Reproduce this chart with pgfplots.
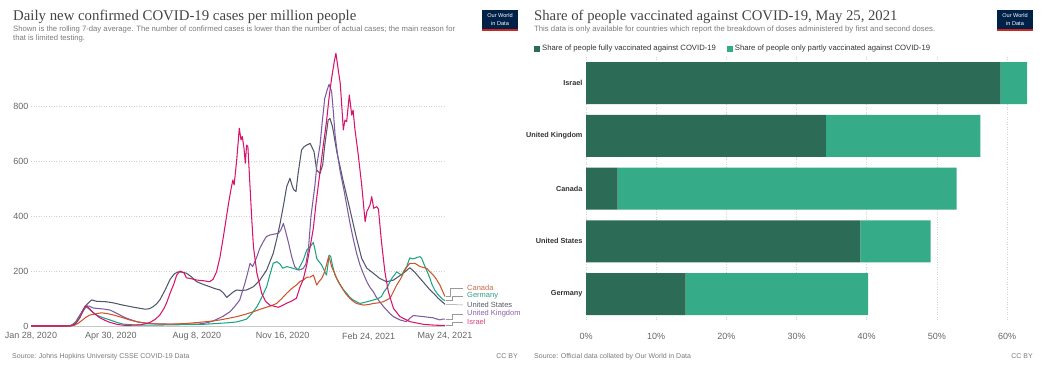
\documentclass[border=0pt]{standalone}
\usepackage{fontspec}
\setmainfont{Liberation Sans}
\newfontfamily\titlefont{Liberation Serif}
\usepackage{pgfplots}
\pgfplotsset{compat=1.18}
\definecolor{cCanada}{HTML}{CF5429}
\definecolor{cGermany}{HTML}{1BA388}
\definecolor{cUS}{HTML}{50566B}
\definecolor{cUK}{HTML}{7E5AA0}
\definecolor{cIsrael}{HTML}{D8136C}
\definecolor{lCanada}{HTML}{CC6A48}
\definecolor{lGermany}{HTML}{2F9C84}
\definecolor{lUS}{HTML}{555A66}
\definecolor{lUK}{HTML}{8A60AA}
\definecolor{lIsrael}{HTML}{D2447F}
\definecolor{fullc}{HTML}{2C6B56}
\definecolor{partc}{HTML}{35AB87}
\definecolor{navy}{HTML}{002147}
\definecolor{owidred}{HTML}{CE261E}
\definecolor{titlec}{HTML}{444444}
\definecolor{subc}{HTML}{7A7A7A}
\definecolor{tickc}{HTML}{666666}
\begin{document}
\begin{tikzpicture}[x=1pt,y=1pt]
\path[use as bounding box] (0,0) rectangle (1050,370);
% ---------- titles ----------
\node[anchor=base west, inner sep=0pt, text=titlec] at (13,349) {\titlefont\fontsize{14.8}{16}\selectfont Daily new confirmed COVID-19 cases per million people};
\node[anchor=base west, inner sep=0pt, text=subc] at (13,338) {\fontsize{7.7}{8}\selectfont Shown is the rolling 7-day average. The number of confirmed cases is lower than the number of actual cases; the main reason for};
\node[anchor=base west, inner sep=0pt, text=subc] at (13,329.3) {\fontsize{7.7}{8}\selectfont that is limited testing.};
\node[anchor=base west, inner sep=0pt, text=titlec] at (534,349) {\titlefont\fontsize{14.7}{16}\selectfont Share of people vaccinated against COVID-19, May 25, 2021};
\node[anchor=base west, inner sep=0pt, text=subc] at (534,338) {\fontsize{7.75}{8}\selectfont This data is only available for countries which report the breakdown of doses administered by first and second doses.};
% logos
\fill[navy] (482,341) rectangle (518,360);
\fill[owidred] (482,339) rectangle (518,341);
\node[text=white, inner sep=0pt] at (500,354) {\fontsize{5.6}{6}\selectfont Our World};
\node[text=white, inner sep=0pt] at (500,346.5) {\fontsize{5.6}{6}\selectfont in Data};
\fill[navy] (997,341) rectangle (1033,360);
\fill[owidred] (997,339) rectangle (1033,341);
\node[text=white, inner sep=0pt] at (1015,354) {\fontsize{5.6}{6}\selectfont Our World};
\node[text=white, inner sep=0pt] at (1015,346.5) {\fontsize{5.6}{6}\selectfont in Data};
% sources
\node[anchor=base west, inner sep=0pt, text=subc] at (12,11.5) {\fontsize{7}{7}\selectfont Source: Johns Hopkins University CSSE COVID-19 Data};
\node[anchor=base east, inner sep=0pt, text=subc] at (518,11.5) {\fontsize{7}{7}\selectfont CC BY};
\node[anchor=base west, inner sep=0pt, text=subc] at (534,11.5) {\fontsize{7}{7}\selectfont Source: Official data collated by Our World in Data};
\node[anchor=base east, inner sep=0pt, text=subc] at (1033,11.5) {\fontsize{7}{7}\selectfont CC BY};
% ---------- left line chart ----------
\begin{axis}[
  at={(31pt,44pt)}, anchor=south west, scale only axis,
  width=414pt, height=275pt,
  xmin=0, xmax=482, ymin=0, ymax=1000,
  axis line style={draw=none}, tick style={draw=none},
  xtick={0,93,193,293,393,482},
  xticklabels={{Jan 28, 2020},{Apr 30, 2020},{Aug 8, 2020},{Nov 16, 2020},{Feb 24, 2021},{May 24, 2021}},
  ytick={200,400,600,800},
  extra y ticks={0},
  extra y tick style={grid style={solid, black!22, line width=0.6pt}},
  ymajorgrids, grid style={dash pattern=on 1pt off 1.5pt, black!18, line width=0.5pt},
  ticklabel style={font=\fontsize{9}{10}\selectfont, text=tickc},
  xticklabel style={yshift=-3pt},
  yticklabel style={xshift=1pt},
  /pgf/number format/assume math mode=true,
  clip=false,
  every axis plot/.append style={line width=1.05pt, line join=round},
]
\addplot[cUS] coordinates {(0,0) (40,0) (47,2) (52,15) (58,45) (64,75) (70.6,95) (76,90) (82,89) (88,88) (96,84) (107,76) (120,68) (133,61) (138,63) (142,70) (146,80) (150,95) (156,130) (162,170) (167,190) (171.5,197) (175,196) (181,192) (187,178) (193,161) (200,152) (208,143) (214,136) (220,131) (224,120) (228,104) (232,115) (236,125) (239.5,131) (245,129) (251,131) (259,143) (266.6,167) (274.4,204) (282,264) (286,315) (290,373) (294,440) (297.7,507) (301.5,537) (304,510) (306,495) (308.5,489) (311,555) (315,640) (318,652) (321,658) (325,664) (329.5,634) (332.6,567) (336.5,555) (339.6,586) (342,658) (346,749) (348,755) (351,725) (356,634) (363.6,525) (371,428) (379,319) (385,246) (391,210) (398.5,192) (406,173) (414,161) (422,167) (428,180) (433.5,192) (441,212) (447,195) (453,173) (458,155) (464.5,131) (469,118) (474,101) (482,79)};
\addplot[cUK] coordinates {(0,0) (43,0) (48,3) (53,15) (58,40) (62,60) (65,73) (68,72) (72,66) (76.5,64) (84,62) (92,58) (100,46) (107,34) (115,24) (123,16) (132,11) (145,8) (160,7) (180,6) (195,7) (205,12) (212,18) (216,24) (224,36) (231.7,52) (237,70) (243,94.5) (246,125) (249,155) (252,190) (255,228) (258,216) (260,230) (263,252) (266,280) (270.5,307) (274,325) (278,331) (283,334) (288,337) (291,350) (293.8,373) (296,349) (300,300) (303.5,252) (307,216) (311,204) (314,205) (317,210) (320,225) (323,280) (326,400) (330.6,513) (333,590) (336.5,658) (339,740) (342,828) (345,860) (347,879) (350,852) (352,780) (354,695) (357,620) (360,561) (364,500) (367.5,440) (371,380) (375,319) (379,265) (383,222) (387,190) (391,161) (394.7,140) (398.5,125) (402,105) (406,88) (410,72) (414,58) (418,45) (422,34) (429.6,22) (437,16) (441,28) (445,38) (451,36) (457,34) (462,32) (468,30) (472,26) (476,22) (479,25) (482,25)};
\addplot[cGermany] coordinates {(0,0) (43,0) (47,2) (52,12) (56,30) (60,55) (63,68) (66,66) (70,55) (76,40) (84,30) (92,22) (100,13) (107,7) (120,4) (140,3) (160,4) (180,5) (200,6) (216,9) (230,12) (240,15) (251,25) (257,45) (263,70) (268,100) (274.4,143) (278,185) (282,228) (286,234) (290,225) (293,210) (298,216) (305,210) (311,204) (317,240) (321,276) (325,288) (328.7,304) (330.5,280) (332.6,246) (335,235) (338.4,222) (341,205) (344,185) (346,230) (347,258) (349,252) (351,220) (354,185) (357,165) (360,149) (363,135) (367.5,119) (371,105) (375,94.5) (383,82) (391,88) (398.5,94.5) (404,100) (408,107) (411,125) (414,137) (417,155) (420,173) (423,185) (425.8,197) (428,192) (431.6,185) (434,200) (437.4,216) (441,248) (444,244) (447,246) (450,250) (453,252) (455,245) (458.7,216) (461,200) (464.5,173) (467,150) (470,131) (473,118) (476,107) (479,98) (482,92)};
\addplot[cCanada] coordinates {(0,0) (45,0) (50,2) (55,10) (60,22) (64,32) (68.7,40) (75,44) (82,48) (89,45) (96,40) (105,32) (115,22) (125,14) (135,10) (150,7) (165,7) (180,9) (195,13) (208,17) (220,22) (230,28) (239.5,34) (250,43) (259,52) (266,60) (274,68) (280,74) (286,82) (292,100) (297.7,119) (303,135) (309,149) (313,162) (317,167) (321,177) (325,178) (328.7,185) (330.5,170) (332.6,149) (335,160) (338.4,173) (341,190) (344,222) (346.5,252) (348,240) (350,216) (353,195) (356,173) (360,150) (363.6,131) (367,115) (371,101) (375,90) (379,82) (387,76) (393,78) (398.5,82) (404,84) (410,88) (418,101) (422,125) (425.8,149) (430,170) (433.5,192) (437,212) (441,228) (447,228) (453,216) (460.7,210) (464,198) (468.4,185) (472,170) (476,149) (479,128) (482,107)};
\addplot[cIsrael] coordinates {(0,0) (40,0) (47,1) (52,8) (57,30) (61,60) (63,73) (66,70) (72,50) (80,30) (90,15) (100,6) (110,2) (127,4) (138,12) (145,25) (150,40) (155,65) (158,85) (162,120) (166,150) (169.6,185) (173.5,200) (178,194) (181,175) (185,173) (193,167) (200,165) (208,161) (212,170) (216,197) (220,250) (224,325) (230,446) (233,500) (235,531) (236.5,513) (239.5,604) (242.5,719) (244.5,677) (246,689) (248,646) (249.5,592) (251,658) (252.5,652) (255,507) (257,390) (259,288) (263,192) (268.6,119) (273,90) (278,76) (283,72) (288,68) (293,75) (297.7,83) (303,90) (309,101) (313,140) (317,170) (321,222) (325,288) (328.7,355) (332,450) (336.5,561) (340,650) (344,743) (347,830) (350,901) (353,960) (355,992) (358,925) (360,883) (361.5,816) (363.6,713) (365.5,749) (367.5,743) (370.6,840) (373.4,767) (375,785) (377,719) (381,622) (385,513) (389,379) (391,416) (394.7,440) (396.7,470) (399,428) (402.5,434) (404.5,425) (408,307) (412,197) (416,125) (422,64) (429.6,34) (441,16) (457,6) (470,3) (482,2)};
\end{axis}
% end labels with connectors
\begin{scope}[black!40, line width=0.5pt]
\draw (446,73.4) -- (450,73.4) -- (450,82) -- (463,82);
\draw (446,69.3) -- (452,69.3) -- (452,74) -- (463,74);
\draw (446,65.7) -- (463,65);
\draw (446,50.9) -- (452,50.9) -- (452,56) -- (463,56);
\draw (446,44.5) -- (452,44.5) -- (452,48) -- (463,48);
\end{scope}
\begin{scope}[every node/.style={anchor=west, inner sep=0pt, font=\fontsize{7.5}{8}\selectfont}]
\node[text=lCanada] at (467,82) {Canada};
\node[text=lGermany] at (467,74) {Germany};
\node[text=lUS] at (467,65) {United States};
\node[text=lUK] at (467,56) {United Kingdom};
\node[text=lIsrael] at (467,48) {Israel};
\end{scope}
% ---------- right bar chart ----------
\begin{axis}[
  at={(586pt,49.6pt)}, anchor=south west, scale only axis,
  width=456.1pt, height=263.75pt,
  xbar stacked, bar width=42pt,
  xmin=0, xmax=65, ymin=-0.5, ymax=4.5,
  ytick={0,1,2,3,4},
  yticklabels={Germany,United States,Canada,United Kingdom,Israel},
  xtick={0,10,20,30,40,50,60},
  xticklabel={\pgfmathprintnumber{\tick}\%},
  xmajorgrids, grid style={dash pattern=on 1pt off 1.5pt, black!18, line width=0.5pt},
  axis line style={draw=none}, tick style={draw=none},
  xticklabel style={font=\fontsize{9}{10}\selectfont, text=tickc, yshift=-9pt},
  yticklabel style={font=\fontsize{7.3}{8}\bfseries\selectfont, text=black!80},
  /pgf/number format/assume math mode=true,
  legend style={at={(-0.114,1.03)}, anchor=west, draw=none, fill=none, legend columns=2,
    font=\fontsize{7.7}{8}\selectfont, text=black!80, inner sep=0pt,
    /tikz/every even column/.append style={column sep=9pt}},
  legend image code/.code={\fill[#1] (0pt,-3pt) rectangle (6pt,3pt);},
  clip=false,
]
\addplot[fill=fullc, draw=none] coordinates {(14.2,0) (39.1,1) (4.5,2) (34.2,3) (59.1,4)};
\addplot[fill=partc, draw=none] coordinates {(26.0,0) (10.0,1) (48.3,2) (22.0,3) (3.75,4)};
\legend{Share of people fully vaccinated against COVID-19, Share of people only partly vaccinated against COVID-19}
\end{axis}
\end{tikzpicture}
\end{document}
